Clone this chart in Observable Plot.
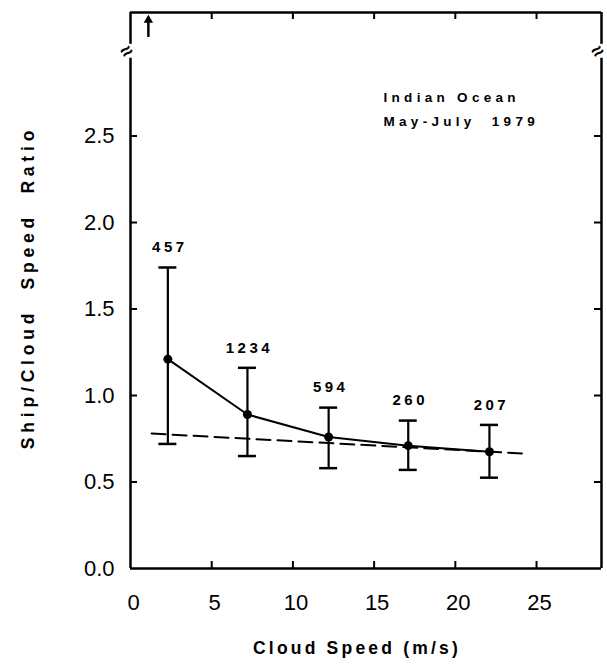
<!DOCTYPE html>
<html><head><meta charset="utf-8">
<script src="https://cdn.jsdelivr.net/npm/d3@7"></script>
<script src="https://cdn.jsdelivr.net/npm/@observablehq/plot@0.6"></script>
<style>
body{margin:0;background:#fff}
#chart svg{display:block}
</style></head><body><div id="chart"></div>
<script>
// ---- data ----
const xTicks = [0, 5, 10, 15, 20, 25];
const yTicks = [0, 0.5, 1.0, 1.5, 2.0, 2.5];
const speed   = [2.3, 7.2, 12.2, 17.1, 22.1];
const ratio   = [1.21, 0.89, 0.76, 0.71, 0.675];
const ratioHi = [1.74, 1.16, 0.93, 0.855, 0.83];
const ratioLo = [0.72, 0.65, 0.58, 0.57, 0.525];
const counts  = [457, 1234, 594, 260, 207];
const fitX = [1.3, 24.1];
const fitY = [0.78, 0.665];
const offX = [1.1];          // off-scale arrow
const offY1 = [3.07], offY2 = [3.17];
const xMax = 29, yMax = 3.214;
const breakGap = [2.95, 3.03];
const legendLines = ["Indian Ocean", "May-July  1979"];
const xTitle = "Cloud Speed (m/s)";
const yTitle = "Ship/Cloud  Speed  Ratio";

// ---- tables ----
const rows = speed.map((x, i) => ({x, y: ratio[i], hi: ratioHi[i], lo: ratioLo[i], n: counts[i]}));
const fit = fitX.map((x, i) => ({x, y: fitY[i]}));
const off = offX.map((x, i) => ({x, y1: offY1[i], y2: offY2[i]}));

const W = 607, H = 668, mL = 130, mR = 6, mT = 12, mB = 100;
const plotW = W - mL - mR, plotH = H - mT - mB;
const ink = "#000";

const chart = Plot.plot({
  width: W, height: H,
  marginLeft: mL, marginRight: mR, marginTop: mT, marginBottom: mB,
  style: {fontFamily: "'Liberation Sans', Arial, sans-serif", background: "#fff", color: ink},
  x: {domain: [0, xMax]},
  y: {domain: [0, yMax]},
  marks: [
    Plot.axisX({ticks: xTicks, tickSize: 0, tickPadding: 26, fontSize: 22, label: null, tickFormat: d3.format("d"), dx: 3}),
    Plot.axisY({ticks: yTicks, tickSize: 0, tickPadding: 16, fontSize: 22, label: null, tickFormat: d3.format(".1f")}),
    // frame
    Plot.ruleY([0, yMax], {y: d => d, stroke: ink, strokeWidth: 2.5}),
    Plot.ruleX([0, xMax], {x: d => d, y1: 0, y2: breakGap[0], stroke: ink, strokeWidth: 2.5}),
    Plot.ruleX([0, xMax], {x: d => d, y1: breakGap[1], y2: yMax, stroke: ink, strokeWidth: 2.5}),
    Plot.text([0, xMax], {x: d => d, y: (breakGap[0] + breakGap[1]) / 2, text: () => "≈", dx: -4, fontSize: 20, fontWeight: "bold", rotate: -35, fill: ink}),
    // inward ticks
    Plot.tickY(yTicks.filter(d => d > 0), {y: d => d, insetRight: plotW - 7, stroke: ink, strokeWidth: 2}),
    Plot.tickY(yTicks.filter(d => d > 0), {y: d => d, insetLeft: plotW - 7, stroke: ink, strokeWidth: 2}),
    Plot.tickX(xTicks.filter(d => d > 0), {x: d => d, insetTop: plotH - 7, stroke: ink, strokeWidth: 2}),
    Plot.tickX(xTicks.filter(d => d > 0), {x: d => d, insetBottom: plotH - 7, stroke: ink, strokeWidth: 2}),
    // dashed fit
    Plot.line(fit, {x: "x", y: "y", stroke: ink, strokeWidth: 2, strokeDasharray: "14,7"}),
    // error bars
    Plot.ruleX(rows, {x: "x", y1: "lo", y2: "hi", stroke: ink, strokeWidth: 2.2}),
    Plot.ruleY(rows, {y: "hi", x1: "x", x2: "x", insetLeft: -9, insetRight: -9, stroke: ink, strokeWidth: 2.5}),
    Plot.ruleY(rows, {y: "lo", x1: "x", x2: "x", insetLeft: -9, insetRight: -9, stroke: ink, strokeWidth: 2.5}),
    Plot.line(rows, {x: "x", y: "y", stroke: ink, strokeWidth: 2}),
    Plot.dot(rows, {x: "x", y: "y", r: 4.5, fill: ink, stroke: null}),
    Plot.text(rows, {x: "x", y: "hi", text: d => String(d.n), dy: -20, dx: 2, fontSize: 15, fontWeight: "bold", fill: ink, ariaDescription: "counts"}),
    // off-scale arrow
    Plot.ruleX(off, {x: "x", y1: "y1", y2: "y2", stroke: ink, strokeWidth: 2.5}),
    Plot.dot(off, {x: "x", y: "y2", symbol: "triangle", r: 3.5, fill: ink, stroke: null}),
    // legend
    Plot.text([legendLines.join("\n")], {frameAnchor: "top-left", dx: 253, dy: 73, textAnchor: "start", lineAnchor: "top", lineHeight: 1.77, fontSize: 13.5, fontWeight: "bold", fill: ink, ariaDescription: "legend"}),
    // titles
    Plot.text([yTitle], {frameAnchor: "left", dx: -102, dy: -3, rotate: -90, textAnchor: "middle", lineAnchor: "middle", fontSize: 17.5, fontWeight: "bold", fill: ink, ariaDescription: "ytitle"}),
    Plot.text([xTitle], {frameAnchor: "bottom", dy: 80, dx: -9, textAnchor: "middle", lineAnchor: "middle", fontSize: 17.5, fontWeight: "bold", fill: ink, ariaDescription: "xtitle"})
  ]
});
const spacing = {counts: "3.5px", legend: "4.3px", ytitle: "4.8px", xtitle: "3.2px"};
for (const [k, v] of Object.entries(spacing)) {
  d3.select(chart).selectAll(`g[aria-description="${k}"] text`).style("letter-spacing", v);
}
document.getElementById("chart").appendChild(chart);
</script>
</body></html>
